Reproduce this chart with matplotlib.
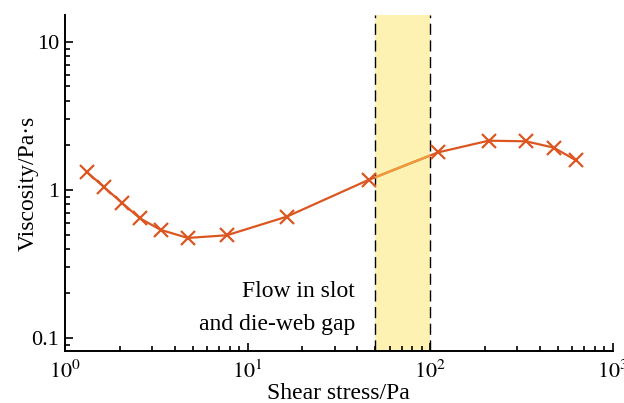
import numpy as np
import matplotlib
matplotlib.use('Agg')
import matplotlib.pyplot as plt
from matplotlib.ticker import LogLocator, FixedLocator, FixedFormatter, NullFormatter

# datos
esfuerzo = [1.32, 1.63, 2.05, 2.57, 3.35, 4.71, 7.7, 16.4, 46.1, 110, 209, 334, 475, 626]
viscosidad = [1.32, 1.05, 0.82, 0.644, 0.537, 0.474, 0.494, 0.66, 1.17, 1.79, 2.15, 2.13, 1.93, 1.59]
banda = [50, 100]
texto_banda = "Flow in slot\nand die-web gap"

color_linea = '#DB5620'
color_banda = '#FDF2B2'
color_linea_banda = '#F09A3C'

plt.rcParams['font.family'] = ['Liberation Serif', 'DejaVu Serif']
plt.rcParams['mathtext.fontset'] = 'stix'

fig = plt.figure(figsize=(6.24, 4.03), dpi=100)
ax = fig.add_axes([0.104, 0.129, 0.878, 0.834])

span = ax.axvspan(banda[0], banda[1], color=color_banda, lw=0, zorder=0)
for b in banda:
    ax.axvline(b, color='black', lw=1.0, ls=(0, (8, 4)), zorder=1)

ax.plot(esfuerzo, viscosidad, color=color_linea, lw=1.6, marker='x',
        markersize=10, mew=1.6, zorder=3)
linea_banda, = ax.plot(esfuerzo, viscosidad, color=color_linea_banda, lw=1.6, zorder=4)
linea_banda.set_clip_path(span)

ax.set_xscale('log')
ax.set_yscale('log')
ax.set_xlim(1, 1000)
ax.set_ylim(0.0817, 15.2)

ax.xaxis.set_major_locator(FixedLocator([1, 10, 100, 1000]))
ax.xaxis.set_major_formatter(FixedFormatter([r'$10^0$', r'$10^1$', r'$10^2$', r'$10^3$']))
ax.xaxis.set_minor_locator(LogLocator(base=10, subs=np.arange(2, 10)))
ax.xaxis.set_minor_formatter(NullFormatter())
ax.yaxis.set_major_locator(FixedLocator([0.1, 1, 10]))
ax.yaxis.set_major_formatter(FixedFormatter(['0.1', '1', '10']))
ax.yaxis.set_minor_locator(LogLocator(base=10, subs=np.arange(2, 10)))
ax.yaxis.set_minor_formatter(NullFormatter())

ax.tick_params(which='both', direction='in', width=1.2, labelsize=16)
ax.tick_params(which='major', length=6)
ax.tick_params(which='minor', length=3.5)
ax.tick_params(axis='x', which='major', pad=7)
ax.tick_params(axis='y', which='major', pad=4)

for lado in ['top', 'right']:
    ax.spines[lado].set_visible(False)
for lado in ['left', 'bottom']:
    ax.spines[lado].set_linewidth(1.4)

ax.set_xlabel('Shear stress/Pa', fontsize=17, labelpad=0)
ax.set_ylabel('Viscosity/Pa·s', fontsize=17, labelpad=-5)

ax.text(38.7, 0.105, texto_banda, ha='right', va='bottom', fontsize=17,
        linespacing=1.72)

fig.savefig('out.png', dpi=100)
